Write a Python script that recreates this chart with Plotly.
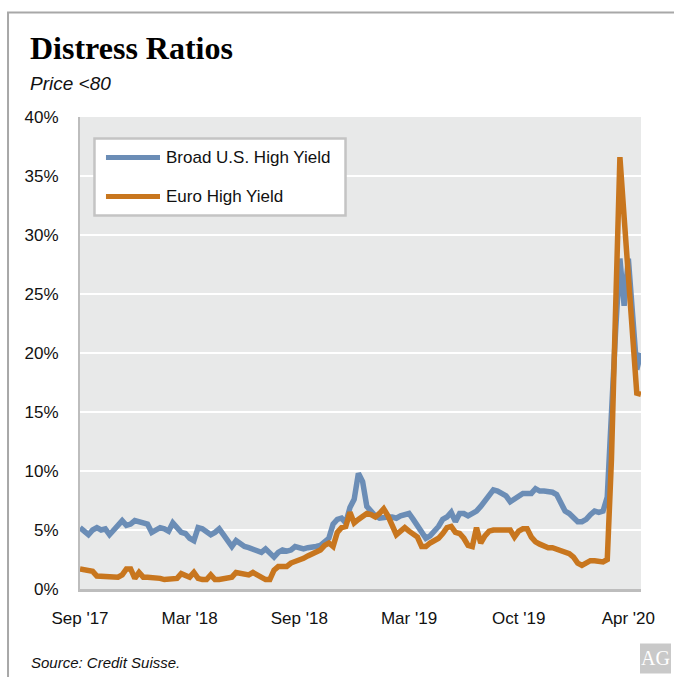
import plotly.graph_objects as go

# Weekly observations, Sep 2017 .. Apr 2020 (week index 0..133)
weeks = list(range(134))

broad_us_hy = [
    5.2, 4.9, 4.6, 5.0, 5.2, 5.0, 5.1, 4.6, 5.0, 5.4,
    5.8, 5.4, 5.5, 5.8, 5.7, 5.7, 5.5, 4.8, 5.0, 5.2,
    5.1, 4.9, 5.6, 5.1, 4.8, 4.7, 4.3, 4.1, 5.2, 5.1,
    4.8, 4.6, 4.8, 5.1, 4.6, 4.1, 3.6, 4.1, 3.8, 3.6,
    3.5, 3.4, 3.2, 3.1, 3.4, 3.1, 2.7, 3.1, 3.3, 3.2,
    3.3, 3.6, 3.5, 3.4, 3.5, 3.5, 3.6, 3.7, 4.0, 4.3,
    5.5, 5.9, 6.0, 5.6, 6.9, 7.6, 9.8, 9.1, 7.0, 6.5,
    6.2, 6.0, 6.1, 6.1, 6.1, 6.0, 6.2, 6.3, 6.4, 5.9,
    5.3, 4.7, 4.3, 4.5, 4.9, 5.3, 5.9, 6.1, 6.5, 5.7,
    6.4, 6.4, 6.2, 6.4, 6.6, 7.0, 7.5, 7.9, 8.4, 8.3,
    8.1, 7.9, 7.4, 7.6, 7.9, 8.1, 8.1, 8.1, 8.5, 8.3,
    8.3, 8.3, 8.2, 8.0, 7.4, 6.6, 6.4, 6.0, 5.7, 5.7,
    5.9, 6.3, 6.6, 6.5, 6.6, 7.8, 16.0, 22.0, 28.0, 24.0,
    28.0, 23.3, 18.6, 20.0,
]

euro_hy = [
    1.7, 1.6, 1.5, 1.5, 1.1, 1.1, 1.1, 1.1, 1.0, 1.0,
    1.2, 1.7, 1.7, 0.9, 1.4, 1.0, 1.0, 1.0, 1.0, 0.9,
    0.8, 0.8, 0.9, 0.9, 1.3, 1.2, 1.0, 1.4, 0.9, 0.8,
    0.8, 1.2, 0.8, 0.8, 0.9, 1.0, 1.0, 1.4, 1.3, 1.2,
    1.2, 1.4, 1.2, 1.0, 0.8, 0.8, 1.6, 1.9, 1.9, 1.9,
    2.2, 2.3, 2.4, 2.6, 2.8, 3.0, 3.1, 3.3, 3.7, 3.9,
    3.6, 4.8, 5.2, 5.3, 6.5, 5.6, 5.9, 6.2, 6.4, 6.3,
    6.1, 6.4, 6.8, 6.2, 5.4, 4.6, 4.9, 5.2, 4.9, 4.7,
    4.4, 3.6, 3.6, 3.9, 4.1, 4.3, 4.7, 5.2, 5.3, 4.8,
    4.7, 4.3, 3.7, 3.6, 5.2, 3.9, 4.5, 4.9, 5.0, 5.0,
    4.9, 5.0, 5.0, 4.4, 4.9, 5.1, 5.1, 4.4, 4.0, 3.8,
    3.6, 3.5, 3.5, 3.4, 3.3, 3.2, 3.0, 2.7, 2.2, 2.0,
    2.2, 2.4, 2.4, 2.3, 2.3, 2.5, 11.0, 24.0, 36.6, 31.5,
    26.5, 21.5, 16.6, 16.5,
]

series_names = ["Broad U.S. High Yield", "Euro High Yield"]
series_colors = ["#6B8DB6", "#C8761E"]

tick_weeks = [0, 26, 52, 78, 104, 130]
tick_text = ["Sep '17", "Mar '18", "Sep '18", "Mar '19", "Oct '19", "Apr '20"]

y_ticks = [0, 5, 10, 15, 20, 25, 30, 35, 40]
y_text = [f"{v}%" for v in y_ticks]

fig = go.Figure()
for name, vals, col in zip(series_names, [broad_us_hy, euro_hy], series_colors):
    fig.add_trace(go.Scatter(
        x=weeks, y=vals, mode="lines", name=name,
        line=dict(color=col, width=5.5, shape="linear"),
        showlegend=False,
    ))

font_sans = "Liberation Sans, Arial, sans-serif"

fig.update_layout(
    width=674, height=677,
    margin=dict(l=80, r=33, t=117, b=88),
    paper_bgcolor="white",
    plot_bgcolor="#E8E9E9",
    font=dict(family=font_sans, size=17, color="#111111"),
    xaxis=dict(
        range=[0, 133], tickmode="array", tickvals=tick_weeks, ticktext=tick_text,
        showgrid=False, zeroline=False, showline=True, linecolor="#BDBDBD", linewidth=3,
        ticks="outside", ticklen=12, tickcolor="rgba(0,0,0,0)",
        tickfont=dict(family=font_sans, size=17, color="#111111"),
    ),
    yaxis=dict(
        range=[0, 40], tickmode="array", tickvals=y_ticks, ticktext=y_text,
        showgrid=True, gridcolor="white", gridwidth=1.5, zeroline=False,
        showline=True, linecolor="#BDBDBD", linewidth=2,
        ticks="outside", ticklen=16, tickcolor="rgba(0,0,0,0)",
        tickfont=dict(family=font_sans, size=17, color="#111111"),
    ),
)

shapes = []
# outer frame (left and top edges visible)
shapes.append(dict(type="rect", xref="paper", yref="paper",
                   x0=-0.1283, x1=1.3, y0=-0.4, y1=1.2214,
                   line=dict(color="#A8A8A8", width=2), fillcolor="rgba(0,0,0,0)"))
# legend box
shapes.append(dict(type="rect", xref="paper", yref="paper",
                   x0=0.0258, x1=0.4733, y0=0.7913, y1=0.9544,
                   line=dict(color="#C4C4C4", width=2.5), fillcolor="white"))
legend_rows = [0.9142, 0.8316]
for yy, col in zip(legend_rows, series_colors):
    shapes.append(dict(type="line", xref="paper", yref="paper",
                       x0=0.0463, x1=0.1426, y0=yy, y1=yy,
                       line=dict(color=col, width=5)))
# AG logo box
shapes.append(dict(type="rect", xref="paper", yref="paper",
                   x0=0.9982, x1=1.0535, y0=-0.179, y1=-0.1155,
                   line=dict(width=0), fillcolor="#C9C9C9"))
fig.update_layout(shapes=shapes)

annotations = [
    dict(text="<b>Distress Ratios</b>", xref="paper", yref="paper",
         x=-0.0927, y=1.147, xanchor="left", yanchor="middle", showarrow=False,
         font=dict(family="Liberation Serif, Times New Roman, serif", size=32, color="#000000")),
    dict(text="<i>Price <80</i>", xref="paper", yref="paper",
         x=-0.0927, y=1.071, xanchor="left", yanchor="middle", showarrow=False,
         font=dict(family=font_sans, size=19, color="#111111")),
    dict(text="<i>Source: Credit Suisse.</i>", xref="paper", yref="paper",
         x=-0.0909, y=-0.1557, xanchor="left", yanchor="middle", showarrow=False,
         font=dict(family=font_sans, size=15, color="#111111")),
    dict(text="AG", xref="paper", yref="paper",
         x=1.0258, y=-0.1472, xanchor="center", yanchor="middle", showarrow=False,
         font=dict(family="Liberation Serif, serif", size=20, color="white")),
]
for yy, name in zip(legend_rows, series_names):
    annotations.append(dict(text=name, xref="paper", yref="paper",
                            x=0.1497, y=yy, xanchor="left", yanchor="middle", showarrow=False,
                            font=dict(family=font_sans, size=17, color="#111111")))
fig.update_layout(annotations=annotations)

fig.write_html("out.html")
